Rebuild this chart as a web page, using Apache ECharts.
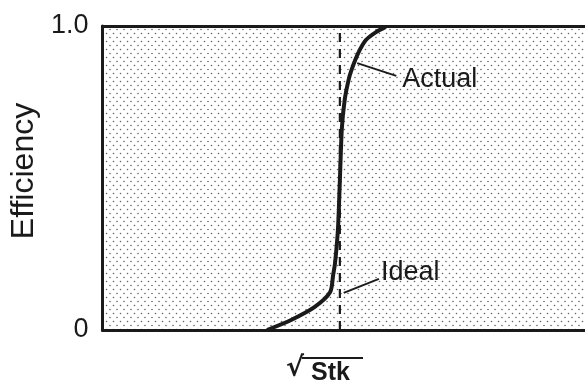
<!DOCTYPE html>
<html>
<head>
<meta charset="utf-8">
<script src="https://cdn.jsdelivr.net/npm/echarts@6/dist/echarts.min.js"></script>
<style>
  html, body { margin: 0; padding: 0; background: #fff; }
  #chart { width: 585px; height: 387px; }
</style>
</head>
<body>
<div id="chart"></div>
<script>
// Collection efficiency versus the square root of the Stokes number.
// x is in arbitrary √Stk units, y is efficiency (0 to 1).
const actualCurve = [
  [3.41, 0.000], [3.91, 0.033], [4.40, 0.076], [4.72, 0.125],
  [4.78, 0.180], [4.82, 0.220], [4.88, 0.330], [4.92, 0.490],
  [4.96, 0.660], [5.02, 0.757], [5.10, 0.822], [5.16, 0.855],
  [5.30, 0.911], [5.46, 0.954], [5.67, 0.980], [5.87, 0.997]
];
const idealCutoff = 4.92;
const idealCurve = [[idealCutoff, 0], [idealCutoff, 1]];

// Leader lines for the two callouts
const actualLeader = [[5.28, 0.878], [6.09, 0.836]];
const idealLeader = [[5.00, 0.122], [5.73, 0.168]];

const yTickLabels = { 0: '0', 1: '1.0' };

// Stippled fill for the plot area
function stipple() {
  const c = document.createElement('canvas');
  c.width = 7; c.height = 8;
  const g = c.getContext('2d');
  g.fillStyle = 'rgba(50,50,50,0.75)';
  [[1.5, 1.5], [5, 5.5]].forEach(([x, y]) => {
    g.beginPath(); g.arc(x, y, 0.8, 0, Math.PI * 2); g.fill();
  });
  return { image: c, repeat: 'repeat' };
}

const FONT = '"Liberation Sans", Arial, sans-serif';
const INK = '#1a1a1a';
const frame = { show: true, lineStyle: { color: INK, width: 3 } };
const bare = {
  type: 'value', min: 0, max: 10,
  axisTick: { show: false }, axisLabel: { show: false }, splitLine: { show: false }
};

function callout(name, points, text, offset) {
  return {
    name: name, type: 'line', data: points, symbol: 'none',
    lineStyle: { color: INK, width: 2 },
    endLabel: {
      show: true, formatter: text, distance: 4, offset: offset,
      fontSize: 27, fontFamily: FONT, color: INK
    }
  };
}

const chart = echarts.init(document.getElementById('chart'));
chart.setOption({
  animation: false,
  backgroundColor: '#fff',
  grid: {
    left: 99, top: 26, right: -10, bottom: 57,
    show: true,
    backgroundColor: stipple(),
    borderWidth: 0
  },
  xAxis: [
    Object.assign({ position: 'bottom', axisLine: frame }, bare),
    Object.assign({ position: 'top', axisLine: frame }, bare)
  ],
  yAxis: {
    type: 'value', min: 0, max: 1, interval: 1,
    name: 'Efficiency', nameLocation: 'middle', nameRotate: 90, nameGap: 58,
    nameTextStyle: { fontSize: 32, fontFamily: FONT, color: INK, padding: [0, 0, 0, 14] },
    axisLine: frame, axisTick: { show: false }, splitLine: { show: false },
    axisLabel: {
      margin: 14, fontSize: 27, fontFamily: FONT, color: INK,
      formatter: v => yTickLabels[v]
    }
  },
  series: [
    {
      name: 'Ideal', type: 'line', data: idealCurve, symbol: 'none',
      lineStyle: { color: INK, width: 2.2, type: [9, 7] }
    },
    {
      name: 'Actual', type: 'line', data: actualCurve, symbol: 'none',
      smooth: 0.25,
      lineStyle: { color: INK, width: 4 }
    },
    callout('Actual callout', actualLeader, 'Actual', [2, 4]),
    callout('Ideal callout', idealLeader, 'Ideal', [-2, -6])
  ],
  graphic: [
    {
      type: 'text', x: 286, y: 369,
      style: { text: '√', font: 'bold 27px "DejaVu Sans", sans-serif', fill: INK, verticalAlign: 'middle' }
    },
    {
      type: 'text', x: 311, y: 373,
      style: { text: 'Stk', font: 'bold 25px ' + FONT, fill: INK, verticalAlign: 'middle' }
    },
    {
      type: 'line', shape: { x1: 302, y1: 358, x2: 363, y2: 358 },
      style: { stroke: INK, lineWidth: 2 }
    }
  ]
});
</script>
</body>
</html>
